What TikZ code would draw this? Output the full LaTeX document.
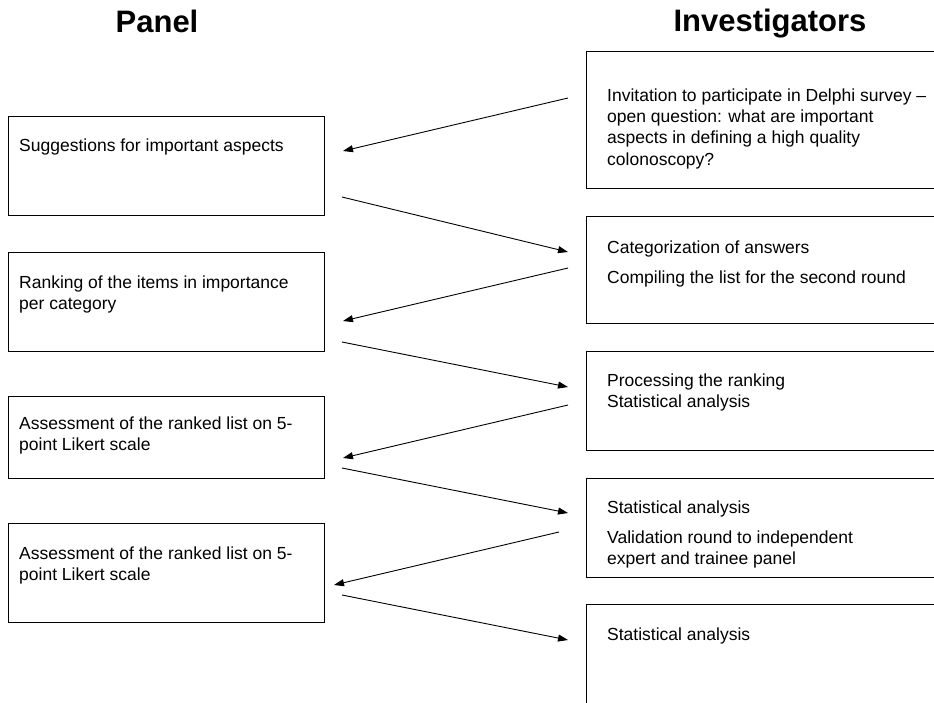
\documentclass[tikz,border=0pt]{standalone}
\usepackage{fontspec}
\setmainfont{Liberation Sans}
\usetikzlibrary{arrows.meta}
\begin{document}
\begin{tikzpicture}[x=1pt,y=-1pt,
  box/.style={draw=black, line width=0.9pt, inner sep=0pt, anchor=north west, minimum width=#1},
  box/.default=316pt,
  txt/.style={anchor=north west, inner sep=0pt, align=left, font=\fontsize{17.5}{21.3}\selectfont},
  head/.style={anchor=base, inner sep=0pt, font=\fontsize{31}{36}\selectfont\bfseries},
  arr/.style={line width=0.9pt, -{Triangle[length=10pt,width=7pt]}}]
\useasboundingbox (0,0) rectangle (934,702);
\clip (0,0) rectangle (934,702);
% headings
\node[head] (hpanel) at (157,32) {Panel};
\node[head] (hinv) at (770,31) {Investigators};
% left boxes
\node[box, minimum height=99pt] (L1) at (8,116) {};
\node[box, minimum height=99pt] (L2) at (8,252) {};
\node[box, minimum height=82pt] (L3) at (8,396) {};
\node[box, minimum height=99pt] (L4) at (8,523) {};
% right boxes
\node[box=360pt, minimum height=137pt] (R1) at (586,51) {};
\node[box=360pt, minimum height=107pt] (R2) at (586,216) {};
\node[box=360pt, minimum height=99pt] (R3) at (586,351) {};
\node[box=360pt, minimum height=99pt] (R4) at (586,478) {};
\node[box=360pt, minimum height=120pt] (R5) at (586,604) {};
% texts
\node[txt] (tL1) at (19,136) {\strut Suggestions for important aspects};
\node[txt] (tL2) at (19,273) {\strut Ranking of the items in importance\\\strut per category};
\node[txt] (tL3) at (19,414) {\strut Assessment of the ranked list on 5-\\\strut point Likert scale};
\node[txt] (tL4) at (19,544) {\strut Assessment of the ranked list on 5-\\\strut point Likert scale};
\node[txt] (tR1) at (607,86) {\strut Invitation to participate in Delphi survey --\\\strut open question: what are important\\\strut aspects in defining a high quality\\\strut colonoscopy?};
\node[txt] (tR2) at (607,238) {\strut Categorization of answers\\[9pt]\strut Compiling the list for the second round};
\node[txt] (tR3) at (607,371) {\strut Processing the ranking\\\strut Statistical analysis};
\node[txt] (tR4) at (607,498) {\strut Statistical analysis\\[9pt]\strut Validation round to independent\\\strut expert and trainee panel};
\node[txt] (tR5) at (607,625) {\strut Statistical analysis};
% arrow end points
\coordinate (a1s) at (568,98);  \coordinate (a1e) at (343,151);
\coordinate (a2s) at (342,197); \coordinate (a2e) at (568,252);
\coordinate (a3s) at (568,268); \coordinate (a3e) at (343,321);
\coordinate (a4s) at (342,342); \coordinate (a4e) at (568,387);
\coordinate (a5s) at (568,405); \coordinate (a5e) at (343,458);
\coordinate (a6s) at (342,468); \coordinate (a6e) at (568,513);
\coordinate (a7s) at (559,532); \coordinate (a7e) at (334,585);
\coordinate (a8s) at (342,595); \coordinate (a8e) at (568,640);
\draw[arr] (a1s) -- (a1e);
\draw[arr] (a2s) -- (a2e);
\draw[arr] (a3s) -- (a3e);
\draw[arr] (a4s) -- (a4e);
\draw[arr] (a5s) -- (a5e);
\draw[arr] (a6s) -- (a6e);
\draw[arr] (a7s) -- (a7e);
\draw[arr] (a8s) -- (a8e);
\end{tikzpicture}
\end{document}
